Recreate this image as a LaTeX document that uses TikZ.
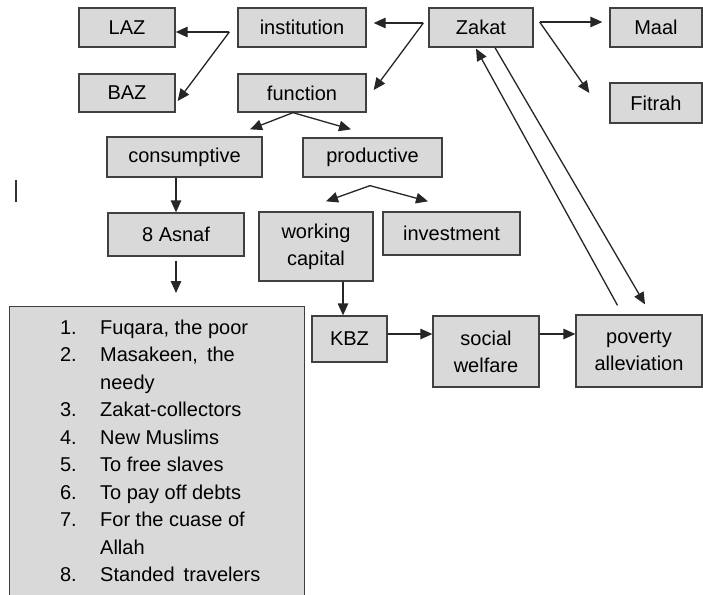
\documentclass[tikz,border=0pt]{standalone}
\usepackage{fontspec}
\setmainfont{Liberation Sans}
\usetikzlibrary{arrows.meta}
\definecolor{boxgray}{HTML}{D9D9D9}
\definecolor{edgegray}{HTML}{404040}
\tikzset{
  box/.style={draw=edgegray, fill=boxgray, line width=1.3pt, inner sep=0pt,
    align=center, font=\fontsize{20}{27}\selectfont, text=black},
  item/.style={inner sep=0pt, font=\fontsize{20}{27}\selectfont, text=black},
  arr/.style={-{Triangle[length=12pt,width=10.5pt]}, line width=1.3pt, black!85},
  ln/.style={line width=1.3pt, black!85}
}
\begin{document}
\begin{tikzpicture}[x=1pt,y=-1pt]
\clip (0,0) rectangle (703,594);
% top row
\node[box, minimum width=96pt, minimum height=39pt] (laz) at (127,27.5) {LAZ};
\node[box, minimum width=96pt, minimum height=38pt] (baz) at (127,93) {BAZ};
\node[box, minimum width=128pt, minimum height=39pt] (inst) at (302,27.5) {institution};
\node[box, minimum width=128pt, minimum height=38pt] (func) at (302,93) {function};
\node[box, minimum width=104pt, minimum height=39pt] (zakat) at (481,27.5) {Zakat};
\node[box, minimum width=92pt, minimum height=39pt] (maal) at (656,27.5) {Maal};
\node[box, minimum width=92pt, minimum height=40pt] (fitrah) at (656,103) {Fitrah};
% functions
\node[box, minimum width=155pt, minimum height=40pt] (cons) at (184.5,157) {consumptive};
\node[box, minimum width=139pt, minimum height=39pt] (prod) at (372.5,157.5) {productive};
\node[box, minimum width=136pt, minimum height=43pt] (asnaf) at (176,234.5) {8 Asnaf};
\node[box, minimum width=114pt, minimum height=69pt] (wcap) at (316,246.5) {working\\capital};
\node[box, minimum width=137pt, minimum height=43pt] (inv) at (451.5,233.5) {investment};
\node[box, minimum width=75pt, minimum height=46pt] (kbz) at (349.5,339) {KBZ};
\node[box, minimum width=106pt, minimum height=71pt] (social) at (486,351.5) {social\\welfare};
\node[box, minimum width=126pt, minimum height=72pt] (pov) at (639,351) {poverty\\alleviation};
% the eight asnaf
\node[box, anchor=north west, minimum width=295pt, minimum height=300pt] (list) at (9,306) {};
\foreach \num/\txt/\base [count=\k] in {1./{Fuqara, the poor}/334,
    2./{Masakeen,\hspace{9pt}the}/361.5, /needy/389, 3./Zakat-collectors/416.5,
    4./New Muslims/444, 5./To free slaves/471.5, 6./To pay off debts/499,
    7./For the cuase of/526.5, /Allah/554, 8./{Standed\hspace{9pt}travelers}/581.5}
{
  \node[item, anchor=base east] (num\k) at (77,\base) {\num};
  \node[item, anchor=base west] (txt\k) at (100,\base) {\txt};
}
% stray mark
\draw[line width=2pt, black!80] (16,180) -- (16,202);
% fan points
\coordinate (instfan) at ([shift={(-8,4.5)}]inst.west);
\coordinate (zakleft) at ([shift={(-5,-4.5)}]zakat.west);
\coordinate (zakright) at ([shift={(6,-5.5)}]zakat.east);
\coordinate (funcfan) at ([xshift=-9pt]func.south);
\coordinate (prodfan) at ([shift={(-2.5,8)}]prod.south);
\coordinate (kbzin) at ([xshift=-6.5pt]kbz.north);
\coordinate (socin) at ([yshift=17.5pt]social.west);
\coordinate (povin) at (pov.west |- socin);
% connectors
\draw[arr] (instfan) -- (laz.east |- instfan);
\draw[arr] (instfan) -- ([shift={(2,8)}]baz.east);
\draw[arr] (zakleft) -- ([shift={(7,-4.5)}]inst.east);
\draw[arr] (zakleft) -- ([shift={(7,-3)}]func.east);
\draw[arr] (zakright) -- ([shift={(-7,-5.5)}]maal.west);
\draw[arr] (zakright) -- ([shift={(-20,-10)}]fitrah.west);
\draw[arr] (funcfan) -- ([shift={(65.5,-7)}]cons.north);
\draw[arr] (funcfan) -- ([shift={(-21.5,-8)}]prod.north);
\draw[arr] (prodfan) -- ([shift={(10,-10)}]wcap.north);
\draw[arr] (prodfan) -- ([shift={(-23.5,-10)}]inv.north);
\draw[arr] (asnaf.north |- cons.south) -- (asnaf.north);
\draw[arr, shorten <=4pt, shorten >=13pt] (asnaf.south) -- (asnaf.south |- list.north);
\draw[arr] (kbzin |- wcap.south) -- (kbzin);
\draw[arr] (kbz.east |- socin) -- (socin);
\draw[arr] (social.east |- socin) -- (povin);
\draw[arr] ([shift={(-21.5,-9)}]pov.north) -- ([shift={(-5,1)}]zakat.south);
\draw[arr] ([xshift=14pt]zakat.south) -- ([shift={(6,-10)}]pov.north);
\end{tikzpicture}
\end{document}
